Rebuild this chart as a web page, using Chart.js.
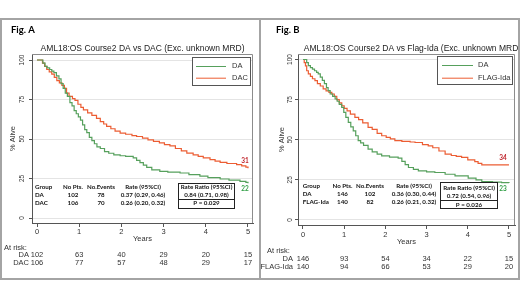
<!DOCTYPE html>
<html>
<head>
<meta charset="utf-8">
<script src="https://cdn.jsdelivr.net/npm/chart.js@4.4.0/dist/chart.umd.min.js"></script>
<style>
  html, body { margin: 0; padding: 0; background: #fff; }
  body { width: 520px; height: 292px; position: relative; overflow: hidden; }
  canvas { position: absolute; top: 18px; }
  #cA { left: 0; }
  #cB { left: 260px; }
  .frame { position: absolute; left: 0; top: 18px; width: 520px; height: 262px; box-sizing: border-box; border: 2px solid #a4a4a4; pointer-events: none; }
  .divider { position: absolute; left: 259px; top: 18px; width: 2px; height: 262px; background: #a4a4a4; pointer-events: none; }
</style>
</head>
<body>
<canvas id="cA" width="260" height="262"></canvas>
<canvas id="cB" width="260" height="262"></canvas>
<div class="frame"></div>
<div class="divider"></div>
<script>
// ---------- data ----------
const xTicks = [0, 1, 2, 3, 4, 5];
const yTicks = [0, 25, 50, 75, 100];

// Fig. A  (DA vs DAC)
const daTimeA = [0, 0.10, 0.14, 0.19, 0.24, 0.30, 0.35, 0.40, 0.46, 0.52, 0.57, 0.62, 0.67, 0.72, 0.78, 0.83, 0.88, 0.93, 0.98, 1.03, 1.08, 1.13, 1.18, 1.24, 1.30, 1.36, 1.42, 1.50, 1.60, 1.70, 1.82, 1.97, 2.10, 2.28, 2.36, 2.44, 2.52, 2.60, 2.72, 2.91, 3.10, 3.39, 3.60, 3.86, 4.05, 4.34, 4.55, 4.81, 4.95, 5.0];
const daSurvA = [100, 100, 98, 96, 95, 94, 93, 92, 90, 88, 85, 82, 79, 77, 73, 71, 68, 66, 64, 62, 59, 56, 54, 51, 49, 47, 45, 44, 42, 41, 40, 39.4, 39, 38, 36.5, 35, 33.5, 32, 30.5, 29.5, 29, 28.5, 27.5, 26.5, 25.5, 24.7, 24, 23.2, 22.5, 22];
const dacTimeA = [0, 0.08, 0.13, 0.18, 0.23, 0.29, 0.35, 0.41, 0.47, 0.53, 0.59, 0.65, 0.70, 0.76, 0.84, 0.90, 0.97, 1.04, 1.10, 1.20, 1.30, 1.41, 1.50, 1.58, 1.65, 1.75, 1.85, 1.97, 2.10, 2.25, 2.36, 2.50, 2.63, 2.76, 2.90, 3.02, 3.15, 3.28, 3.42, 3.55, 3.70, 3.82, 3.94, 4.10, 4.22, 4.34, 4.50, 4.73, 4.85, 4.95, 5.0];
const dacSurvA = [100, 100, 98, 96, 94, 92.5, 91, 89, 87, 85.5, 84, 82, 79, 77, 75.5, 74.5, 72, 70, 68.5, 66.5, 65, 63, 61, 59.5, 58, 56.5, 55, 53.7, 53, 52.2, 51.6, 50.5, 49.5, 48.5, 47.5, 46.5, 45.7, 44, 42.5, 41.1, 40, 39, 38, 37, 36, 35.2, 34.5, 33.8, 33, 32.2, 31.5];
const atRiskDA_A = [102, 63, 40, 29, 20, 15];
const atRiskDAC_A = [106, 77, 57, 48, 29, 17];
const tableRowsA = [["DA", "102", "78", "0.37 (0.29, 0.46)"], ["DAC", "106", "70", "0.26 (0.20, 0.32)"]];
const ratioA = ["Rate Ratio (95%CI)", "0.84 (0.71, 0.98)", "P = 0.029"];
const endLabelsA = ["31", "22"];

// Fig. B  (DA vs FLAG-Ida)
const daTimeB = [0, 0.05, 0.09, 0.13, 0.18, 0.23, 0.28, 0.33, 0.37, 0.42, 0.47, 0.52, 0.57, 0.61, 0.66, 0.72, 0.78, 0.83, 0.88, 0.94, 0.99, 1.04, 1.10, 1.16, 1.22, 1.28, 1.34, 1.40, 1.47, 1.58, 1.68, 1.80, 1.91, 2.10, 2.31, 2.40, 2.48, 2.56, 2.68, 2.80, 3.00, 3.20, 3.45, 3.69, 4.01, 4.20, 4.34, 4.60, 4.82, 5.0];
const daSurvB = [100, 100, 98, 96.2, 95, 94, 93, 92, 91, 89, 87, 85, 82.5, 80.6, 78.5, 77, 75.4, 74, 72, 70.2, 67, 64, 60.8, 58, 55.5, 52.5, 49.4, 48, 46.5, 44.2, 42.5, 41, 40, 39.2, 38.5, 36.5, 34.5, 32.7, 31.5, 30.6, 30, 29.6, 28.5, 27.5, 26.1, 25, 24, 23.6, 23.3, 23];
const flagTimeB = [0, 0.03, 0.06, 0.09, 0.13, 0.18, 0.23, 0.29, 0.35, 0.42, 0.49, 0.56, 0.63, 0.70, 0.76, 0.82, 0.88, 0.94, 1.00, 1.07, 1.15, 1.26, 1.35, 1.45, 1.58, 1.68, 1.80, 1.91, 2.02, 2.12, 2.23, 2.40, 2.60, 2.72, 2.90, 3.04, 3.15, 3.30, 3.45, 3.60, 3.72, 3.85, 4.00, 4.17, 4.25, 4.34, 5.0];
const flagSurvB = [100, 98, 96, 93, 91, 89.5, 88, 86.9, 85, 83.5, 81.7, 80.5, 79.5, 78.5, 77, 75, 73, 71.2, 69.5, 68, 66, 64, 62.5, 60.5, 57.7, 56.5, 54, 52.5, 51.5, 50.5, 49.4, 49, 48.6, 48.3, 47, 46.2, 45, 43, 41, 40.2, 39.6, 39, 37.5, 36.4, 35.3, 34.4, 34.4];
const atRiskDA_B = [146, 93, 54, 34, 22, 15];
const atRiskFLAG_B = [140, 94, 66, 53, 29, 20];
const tableRowsB = [["DA", "146", "102", "0.36 (0.30, 0.44)"], ["FLAG-Ida", "140", "82", "0.26 (0.21, 0.32)"]];
const ratioB = ["Rate Ratio (95%CI)", "0.72 (0.54, 0.96)", "P = 0.026"];
const endLabelsB = ["34", "23"];

// ---------- styling ----------
const GREEN = '#56a05c';
const RED = '#ec5d33';
const LBL_RED = '#c0262d';
const LBL_GREEN = '#2f9e44';
const SANS = '"Liberation Sans", Arial, sans-serif';
const CAL = 'Lato, "Open Sans", sans-serif';
const AXIS = '#555';

function pts(t, s) { return t.map((v, i) => ({ x: v, y: s[i] })); }

function panelPlugin(p) {
  return {
    id: 'panel' + p.fig,
    afterDraw(chart) {
      const ctx = chart.ctx, ca = chart.chartArea, xs = chart.scales.x, ys = chart.scales.y;
      ctx.save();
      // plot region top / right border
      ctx.strokeStyle = '#8c8c8c'; ctx.lineWidth = 1;
      ctx.beginPath();
      ctx.moveTo(ca.left, ca.top + 0.5); ctx.lineTo(ca.right - 0.5, ca.top + 0.5); ctx.lineTo(ca.right - 0.5, ca.bottom);
      ctx.stroke();

      // Fig label
      ctx.fillStyle = '#000';
      ctx.font = 'bold 9.5px ' + CAL;
      ctx.textAlign = 'left'; ctx.textBaseline = 'middle';
      ctx.fillText(p.figLabel, p.figX, 12);

      // title
      ctx.fillStyle = '#222';
      ctx.font = '8.5px ' + SANS;
      ctx.textAlign = 'center';
      ctx.fillText(p.title, p.titleX, p.titleY);

      // y tick labels (vertical)
      ctx.fillStyle = '#333';
      ctx.font = '6.5px ' + SANS;
      ys.ticks.forEach(t => {
        const y = ys.getPixelForValue(t.value);
        ctx.save();
        ctx.translate(p.yLabX, y);
        ctx.rotate(-Math.PI / 2);
        ctx.textAlign = 'center'; ctx.textBaseline = 'middle';
        ctx.fillText(String(t.value), 0, 0);
        ctx.restore();
      });

      // legend
      const lg = p.legend;
      ctx.fillStyle = '#fff';
      ctx.fillRect(lg.x, lg.y, lg.w, lg.h);
      ctx.strokeStyle = '#555'; ctx.lineWidth = 1;
      ctx.strokeRect(lg.x + 0.5, lg.y + 0.5, lg.w, lg.h);
      ctx.font = '7.5px ' + SANS;
      ctx.textAlign = 'left'; ctx.textBaseline = 'middle';
      chart.data.datasets.forEach((ds, i) => {
        const y = lg.rowY[i];
        ctx.strokeStyle = ds.borderColor; ctx.lineWidth = 1;
        ctx.beginPath(); ctx.moveTo(lg.lineX0, y + 0.5); ctx.lineTo(lg.lineX1, y + 0.5); ctx.stroke();
        ctx.fillStyle = '#333';
        ctx.fillText(ds.label, lg.textX, y);
      });

      // stats table
      const tb = p.table;
      ctx.fillStyle = '#111';
      ctx.font = 'bold 6.2px ' + CAL;
      ctx.textBaseline = 'middle';
      const header = ['Group', 'No Pts.', 'No.Events', 'Rate (95%CI)'];
      const rows = [header].concat(p.rows);
      rows.forEach((r, ri) => {
        const y = tb.rowY[ri];
        ctx.textAlign = 'left'; ctx.fillText(r[0], tb.colX[0], y);
        ctx.textAlign = 'center';
        ctx.fillText(r[1], tb.colX[1], y);
        ctx.fillText(r[2], tb.colX[2], y);
        ctx.fillText(r[3], tb.colX[3], y);
      });
      // ratio box
      const bx = p.box;
      ctx.fillStyle = '#fff';
      ctx.fillRect(bx.x, bx.y, bx.w, bx.h);
      ctx.strokeStyle = '#222'; ctx.lineWidth = 1;
      ctx.strokeRect(bx.x + 0.5, bx.y + 0.5, bx.w, bx.h);
      ctx.beginPath(); ctx.moveTo(bx.x, bx.div + 0.5); ctx.lineTo(bx.x + bx.w, bx.div + 0.5); ctx.stroke();
      ctx.fillStyle = '#111';
      ctx.textAlign = 'center';
      p.ratio.forEach((s, i) => ctx.fillText(s, bx.x + bx.w / 2 + 0.5, bx.textY[i]));

      // end labels
      ctx.font = 'bold 6.5px ' + CAL;
      ctx.fillStyle = LBL_RED;
      ctx.fillText(p.endLabels[0], p.endX, p.endY[0]);
      ctx.fillStyle = LBL_GREEN;
      ctx.fillText(p.endLabels[1], p.endX, p.endY[1]);

      // at risk
      ctx.fillStyle = '#333';
      ctx.font = '7.5px ' + SANS;
      ctx.textAlign = 'left';
      ctx.fillText('At risk:', p.risk.titleX, p.risk.titleY);
      p.risk.rows.forEach((row, ri) => {
        const y = p.risk.rowY[ri];
        ctx.textAlign = 'right';
        ctx.fillText(row.name, p.risk.nameX, y);
        ctx.textAlign = 'center';
        row.vals.forEach((v, i) => ctx.fillText(String(v), xs.getPixelForValue(xTicks[i]), y));
      });
      ctx.restore();
    }
  };
}

function makeChart(id, p) {
  return new Chart(document.getElementById(id), {
    type: 'line',
    data: {
      datasets: [
        { label: p.names[0], data: pts(p.s1t, p.s1s), borderColor: GREEN, borderWidth: 1.2, pointRadius: 0, stepped: true, fill: false },
        { label: p.names[1], data: pts(p.s2t, p.s2s), borderColor: RED, borderWidth: 1.2, pointRadius: 0, stepped: true, fill: false }
      ]
    },
    options: {
      responsive: false, animation: false, events: [],
      layout: { padding: { left: 0, top: 36, right: p.padRight, bottom: p.padBottom } },
      plugins: { legend: { display: false }, title: { display: false }, tooltip: { enabled: false } },
      scales: {
        x: {
          type: 'linear', min: p.xMin, max: p.xMax,
          afterBuildTicks: s => { s.ticks = xTicks.map(v => ({ value: v })); },
          afterFit: s => { s.height = 24; },
          grid: { drawOnChartArea: false, drawTicks: true, tickLength: 4, tickColor: AXIS },
          border: { color: AXIS, width: 1 },
          ticks: { padding: p.xTickPad, autoSkip: false, maxRotation: 0, color: '#333', font: { family: SANS, size: 7.5 } },
          title: { display: true, text: 'Years', color: '#333', font: { family: SANS, size: 7.5 }, padding: { top: 0, bottom: p.yearsPad } }
        },
        y: {
          type: 'linear', min: p.yMin, max: p.yMax,
          afterBuildTicks: s => { s.ticks = yTicks.map(v => ({ value: v })); },
          afterFit: s => { s.width = p.yWidth; },
          grid: { color: '#e4e4e4', drawOnChartArea: true, drawTicks: true, tickLength: 3, tickColor: AXIS },
          border: { color: AXIS, width: 1 },
          ticks: { display: false },
          title: { display: true, text: '% Alive', color: '#333', font: { family: SANS, size: 7.5 }, padding: { top: p.yTitlePad, bottom: 0 } }
        }
      }
    },
    plugins: [panelPlugin(p)]
  });
}

makeChart('cA', {
  fig: 'A', figLabel: 'Fig. A', figX: 11,
  title: 'AML18:OS Course2 DA vs DAC (Exc. unknown MRD)', titleX: 142.5, titleY: 31,
  names: ['DA', 'DAC'], s1t: daTimeA, s1s: daSurvA, s2t: dacTimeA, s2s: dacSurvA,
  padRight: 7, padBottom: 33, yWidth: 32, yTitlePad: 8, yLabX: 22.5,
  xMin: -0.1185, xMax: 5.1185, yMin: -3.16, yMax: 103.8, xTickPad: 0, yearsPad: 3.5,
  legend: { x: 192, y: 39, w: 58, h: 28, rowY: [48, 59.7], lineX0: 196, lineX1: 226, textX: 232 },
  table: { rowY: [169, 177, 185], colX: [35, 73, 101, 143] },
  rows: tableRowsA, ratio: ratioA,
  box: { x: 178, y: 165, w: 56, h: 25, div: 181, textY: [169, 177, 185.5] },
  endLabels: endLabelsA, endX: 245, endY: [143, 171],
  risk: { titleX: 4, titleY: 230, nameX: 29, rowY: [237, 245],
          rows: [{ name: 'DA', vals: atRiskDA_A }, { name: 'DAC', vals: atRiskDAC_A }] }
});

makeChart('cB', {
  fig: 'B', figLabel: 'Fig. B', figX: 16,
  title: 'AML18:OS Course2 DA vs Flag-Ida (Exc. unknown MRD)', titleX: 152.5, titleY: 30.5,
  names: ['DA', 'FLAG-Ida'], s1t: daTimeB, s1s: daSurvB, s2t: flagTimeB, s2s: flagSurvB,
  padRight: 5, padBottom: 31, yWidth: 38, yTitlePad: 17.5, yLabX: 30,
  xMin: -0.121, xMax: 5.146, yMin: -3.12, yMax: 103.43, xTickPad: 1.5, yearsPad: 3,
  legend: { x: 177, y: 38, w: 75, h: 28, rowY: [47, 59.7], lineX0: 182, lineX1: 213, textX: 218 },
  table: { rowY: [168, 175.7, 184], colX: [42.7, 82.5, 110, 154] },
  rows: tableRowsB, ratio: ratioB,
  box: { x: 180, y: 164, w: 57, h: 26, div: 182, textY: [169.7, 178, 186.7] },
  endLabels: endLabelsB, endX: 243, endY: [140, 171],
  risk: { titleX: 7, titleY: 233, nameX: 33, rowY: [241, 249],
          rows: [{ name: 'DA', vals: atRiskDA_B }, { name: 'FLAG-Ida', vals: atRiskFLAG_B }] }
});
</script>
</body>
</html>
